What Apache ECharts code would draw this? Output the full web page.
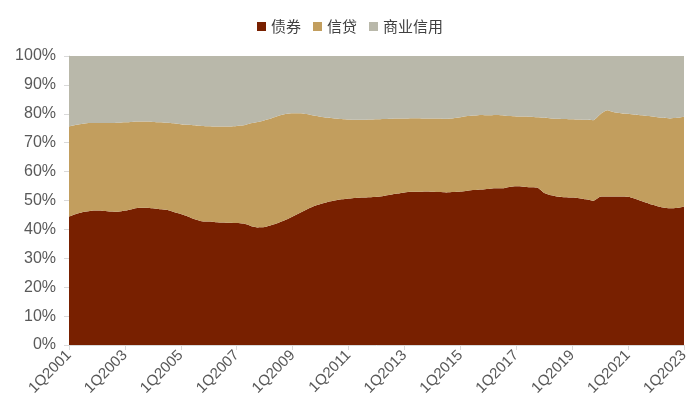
<!DOCTYPE html>
<html>
<head>
<meta charset="utf-8">
<script src="https://cdn.jsdelivr.net/npm/echarts@6/dist/echarts.min.js"></script>
<style>html,body{margin:0;padding:0;background:#fff}#c{width:700px;height:416px}</style>
</head>
<body>
<div id="c"></div>
<script>
// Quarters 1Q2001 .. 1Q2023
const categories = [];
for (let y = 2001; y <= 2023; y++) {
  for (let q = 1; q <= 4; q++) {
    if (y === 2023 && q > 1) break;
    categories.push(q + 'Q' + y);
  }
}
const seriesNames = ['债券', '信贷', '商业信用'];
const bond = [
  44.4,45.3,46.0,46.4, 46.5,46.4,46.2,46.1, 46.5,47.0,47.5,47.5, 47.3,47.0,46.8,46.0,
  45.3,44.5,43.5,42.8, 42.7,42.5,42.4,42.3, 42.2,42.0,41.2,40.7, 40.8,41.5,42.3,43.3,
  44.5,45.7,46.9,48.0, 48.8,49.5,50.0,50.4, 50.7,50.9,51.0,51.1, 51.3,51.6,52.0,52.4,
  52.8,53.0,53.0,53.1, 53.0,52.9,52.8,52.9, 53.1,53.4,53.6,53.8, 54.0,54.2,54.2,54.7,
  54.9,54.8,54.6,54.5, 52.6,51.8,51.3,51.1, 51.0,50.8,50.4,49.9, 51.3,51.4,51.4,51.4,
  51.3,50.6,49.7,48.9, 48.2,47.6,47.3,47.4, 47.9
];
const loan = [
  31.2,30.9,30.6,30.4, 30.3,30.4,30.6,30.8, 30.6,30.2,29.8,29.8, 29.9,30.1,30.1,30.7,
  31.1,31.7,32.5,33.0, 33.0,33.1,33.2,33.3, 33.6,34.0,35.5,36.5, 37.0,37.0,37.0,36.6,
  35.7,34.5,33.0,31.4, 30.2,29.1,28.4,27.8, 27.3,27.0,26.9,26.9, 26.8,26.6,26.3,26.0,
  25.6,25.5,25.5,25.3, 25.4,25.5,25.5,25.6, 25.7,25.8,25.8,25.8, 25.5,25.4,25.3,24.5,
  24.2,24.3,24.4,24.3, 26.0,26.6,27.0,27.1, 27.1,27.2,27.5,27.9, 28.5,29.8,29.1,28.8,
  28.7,29.1,29.8,30.3, 30.7,31.0,31.1,31.2, 31.1
];
const tradeCredit = [
  24.4,23.8,23.4,23.2, 23.2,23.2,23.2,23.1, 22.9,22.8,22.7,22.7, 22.8,22.9,23.1,23.3,
  23.6,23.8,24.0,24.2, 24.3,24.4,24.4,24.4, 24.2,24.0,23.3,22.8, 22.2,21.5,20.7,20.1,
  19.8,19.8,20.1,20.6, 21.0,21.4,21.6,21.8, 22.0,22.1,22.1,22.0, 21.9,21.8,21.7,21.6,
  21.6,21.5,21.5,21.6, 21.6,21.6,21.7,21.5, 21.2,20.8,20.6,20.4, 20.5,20.4,20.5,20.8,
  20.9,20.9,21.0,21.2, 21.4,21.6,21.7,21.8, 21.9,22.0,22.1,22.2, 20.2,18.8,19.5,19.8,
  20.0,20.3,20.5,20.8, 21.1,21.4,21.6,21.4, 21.0
];
const colors = ['#782000', '#C29E5E', '#B9B8AA'];

const chart = echarts.init(document.getElementById('c'));
const mk = (name, data, color) => ({
  name, type: 'line', stack: 'total', data,
  showSymbol: false, symbol: 'none',
  lineStyle: { width: 0 },
  areaStyle: { color, opacity: 1 },
  itemStyle: { color },
  smooth: 0.2
});
chart.setOption({
  animation: false,
  textStyle: { fontFamily: 'Liberation Sans, Arial, sans-serif' },
  legend: {
    top: 14, left: 'center',
    icon: 'rect', itemWidth: 9, itemHeight: 9, itemGap: 12,
    textStyle: { fontSize: 15, color: '#404040', fontFamily: 'Noto Sans CJK SC' },
    data: seriesNames
  },
  grid: { left: 69, right: 16, top: 56, bottom: 71 },
  xAxis: {
    type: 'category', data: categories, boundaryGap: false,
    axisLine: { lineStyle: { color: '#D9D9D9' } },
    axisTick: { show: true, interval: 7, lineStyle: { color: '#D9D9D9' } },
    axisLabel: { interval: 7, rotate: 45, fontSize: 15, color: '#595959', margin: 8 }
  },
  yAxis: {
    type: 'value', min: 0, max: 100, interval: 10,
    axisLine: { show: true, lineStyle: { color: '#D9D9D9' } },
    axisTick: { show: true, lineStyle: { color: '#D9D9D9' } },
    splitLine: { show: false },
    axisLabel: { formatter: '{value}%', fontSize: 16, color: '#595959', margin: 13 }
  },
  series: [
    mk(seriesNames[0], bond, colors[0]),
    mk(seriesNames[1], loan, colors[1]),
    mk(seriesNames[2], tradeCredit, colors[2])
  ]
});
</script>
</body>
</html>
